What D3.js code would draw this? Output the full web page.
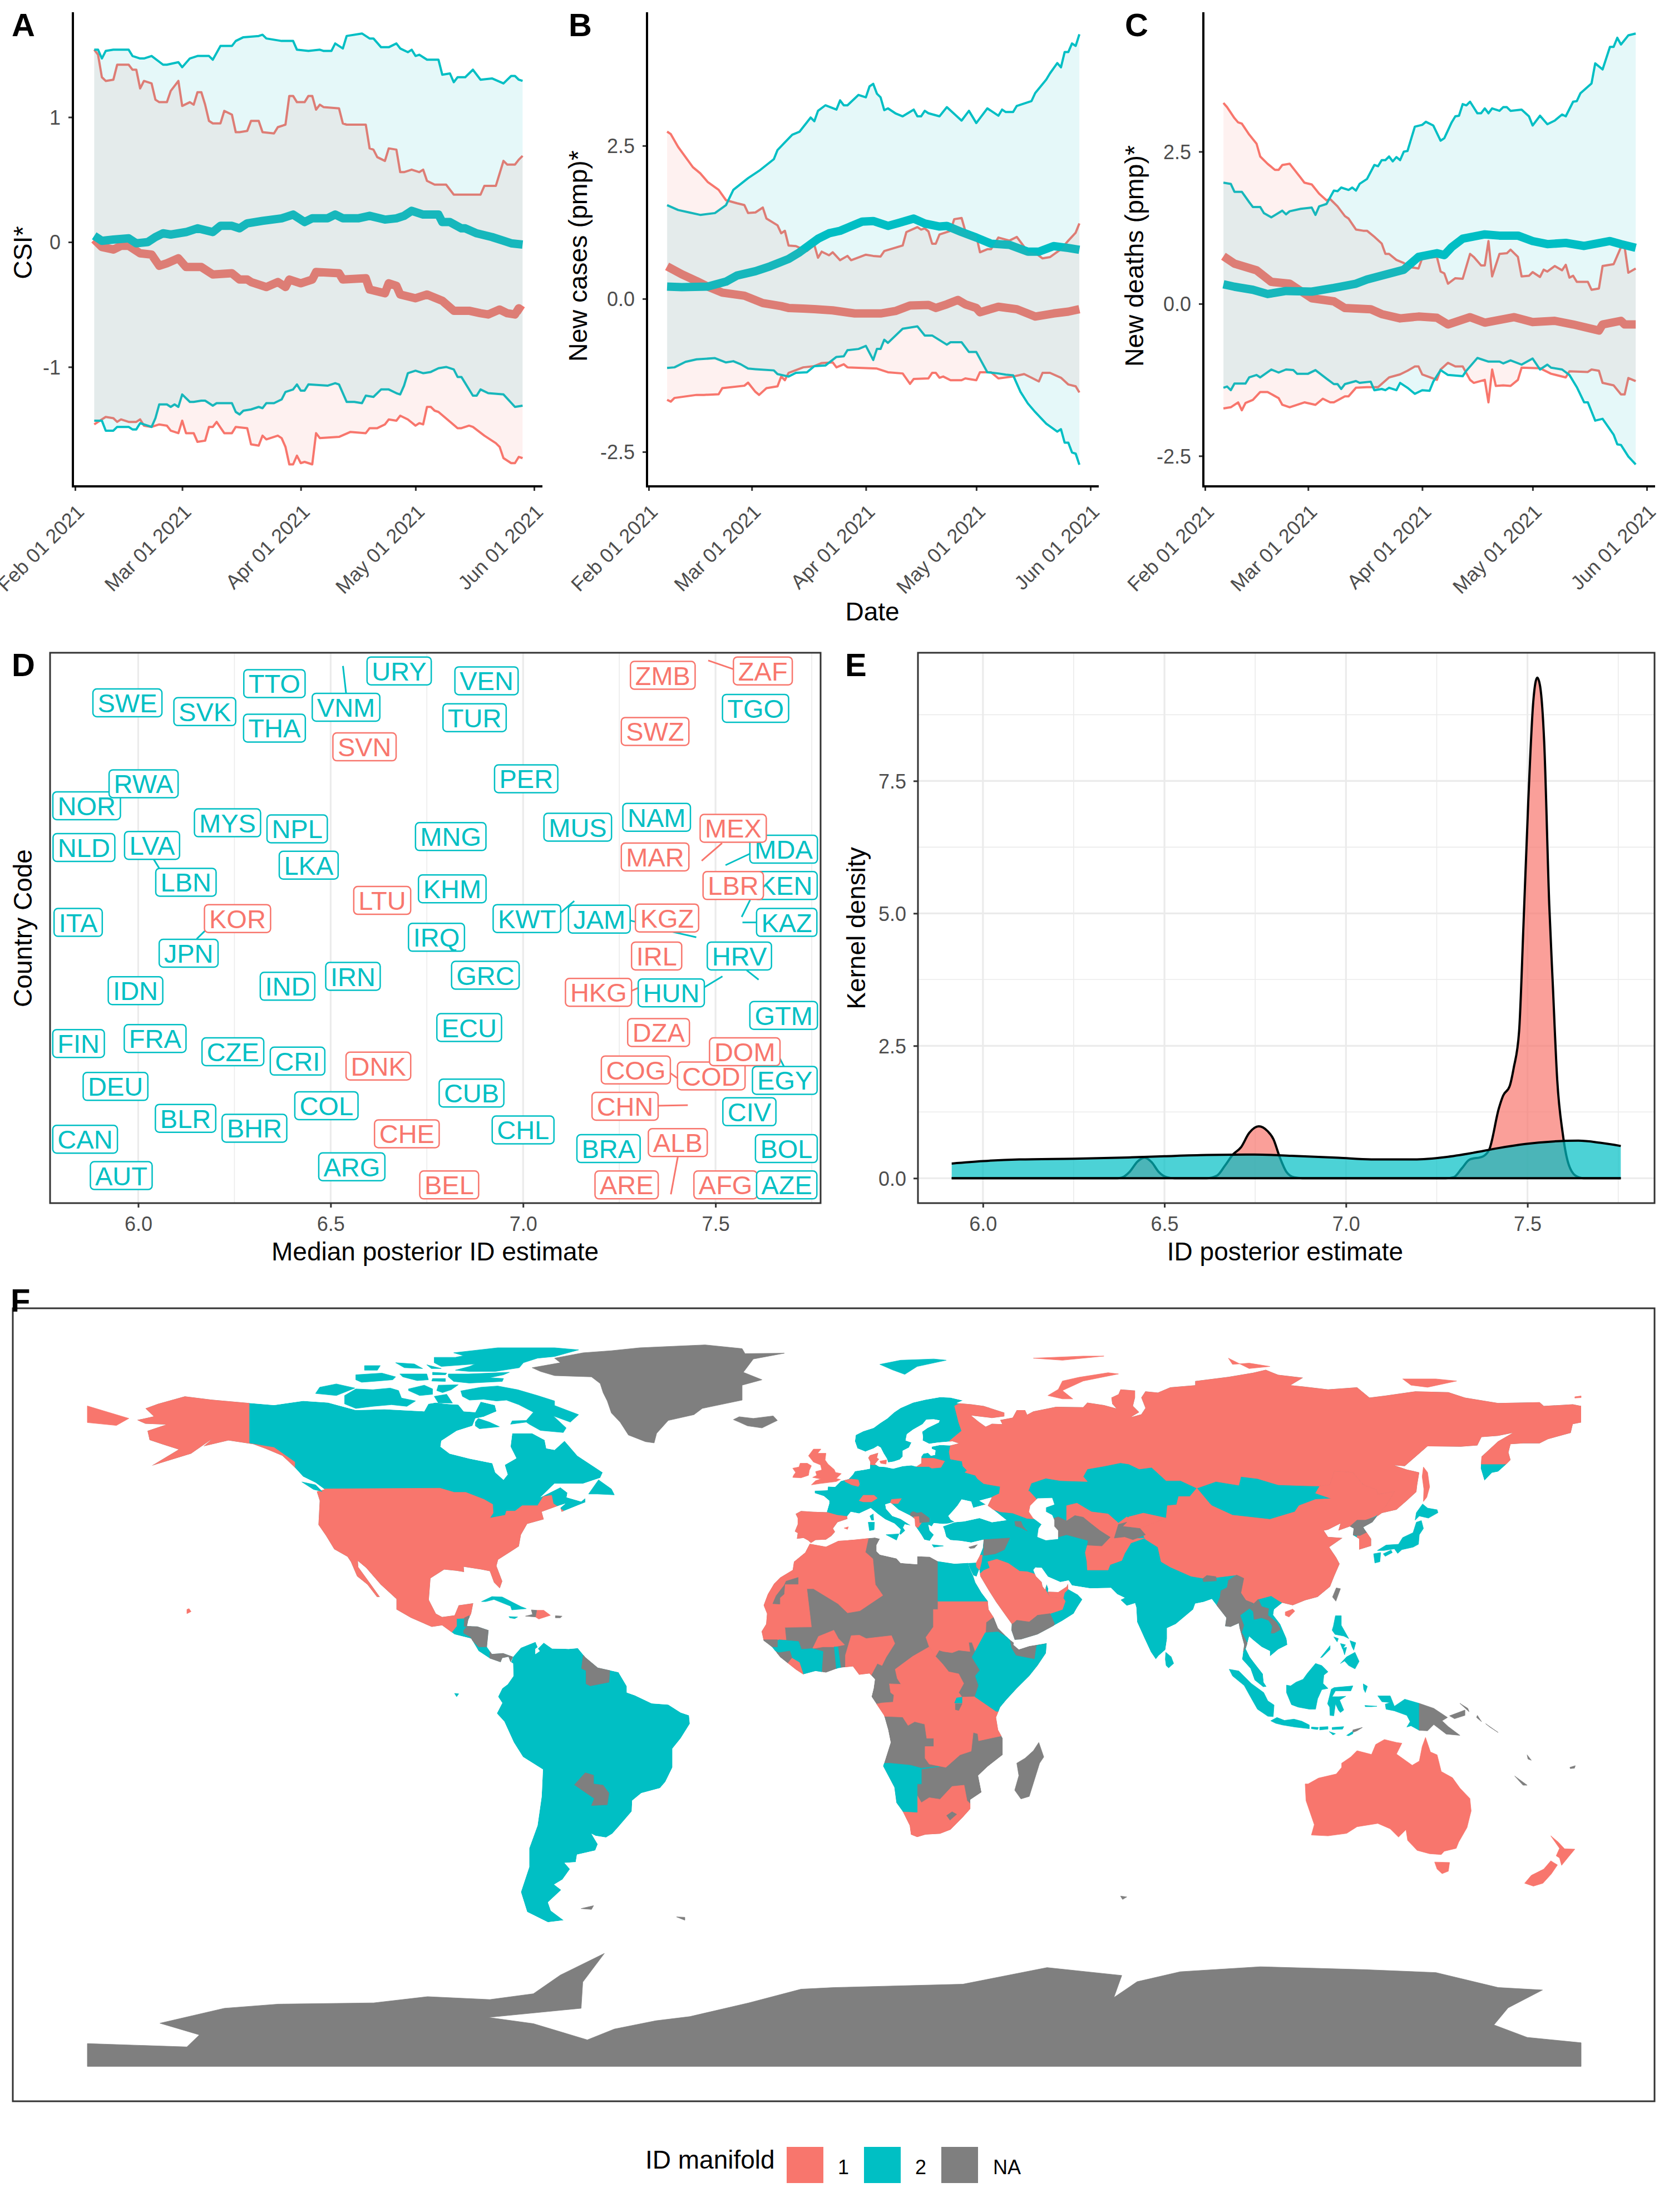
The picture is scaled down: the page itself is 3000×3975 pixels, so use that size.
<!DOCTYPE html>
<html>
<head>
<meta charset="utf-8">
<style>
  body { margin: 0; background: white; }
  text { font-family: "Liberation Sans", Arial, sans-serif; }
</style>
</head>
<body>
<svg id="chart" width="3000" height="3975"></svg>
<script src="https://cdn.jsdelivr.net/npm/d3@7"></script>
<script>
// ---- panel A: CSI, [day since 1 Feb 2021, value]
const csiHi2 = [[5,1.54],[6,1.54],[7,1.47],[8,1.53],[10,1.54],[14,1.54],[15,1.49],[17,1.47],[18,1.47],[20,1.49],[23,1.42],[24,1.42],[27,1.44],[28,1.40],[30,1.47],[32,1.49],[35,1.49],[36,1.46],[38,1.57],[41,1.57],[42,1.61],[44,1.64],[48,1.65],[49,1.66],[50,1.63],[54,1.61],[57,1.61],[58,1.54],[61,1.53],[64,1.54],[65,1.53],[67,1.53],[68,1.59],[70,1.55],[71,1.65],[75,1.67],[77,1.63],[78,1.63],[80,1.56],[82,1.56],[84,1.59],[85,1.55],[87,1.52],[88,1.54],[89,1.49],[90,1.50],[92,1.46],[95,1.46],[96,1.34],[98,1.35],[99,1.28],[100,1.32],[102,1.32],[104,1.38],[106,1.30],[109,1.31],[112,1.27],[114,1.33],[115,1.33],[116,1.30],[117,1.29]]
const csiHi1 = [[5,1.54],[6,1.50],[7,1.32],[8,1.29],[10,1.30],[11,1.42],[14,1.42],[15,1.38],[16,1.38],[17,1.23],[18,1.29],[20,1.27],[21,1.14],[22,1.12],[24,1.12],[25,1.21],[27,1.29],[28,1.09],[30,1.12],[31,1.10],[32,1.20],[33,1.20],[34,1.10],[35,0.97],[36,0.95],[38,0.95],[39,1.05],[41,1.02],[42,0.88],[43,0.88],[45,0.89],[46,0.97],[48,0.97],[49,0.88],[52,0.87],[53,0.92],[55,0.94],[56,1.17],[57,1.17],[58,1.12],[60,1.12],[61,1.17],[62,1.17],[63,1.06],[64,1.10],[65,1.08],[69,1.07],[70,0.95],[71,0.94],[76,0.94],[77,0.75],[78,0.74],[79,0.68],[81,0.65],[82,0.75],[84,0.74],[85,0.56],[86,0.56],[88,0.58],[90,0.56],[91,0.58],[92,0.49],[94,0.46],[97,0.46],[99,0.38],[106,0.38],[107,0.45],[108,0.45],[110,0.45],[112,0.65],[113,0.62],[115,0.62],[116,0.66],[117,0.69]]
const csiLo2 = [[5,-1.43],[7,-1.43],[8,-1.51],[10,-1.51],[11,-1.48],[14,-1.48],[15,-1.50],[16,-1.50],[17,-1.45],[20,-1.48],[21,-1.41],[22,-1.30],[24,-1.30],[25,-1.32],[26,-1.30],[27,-1.32],[28,-1.22],[30,-1.28],[31,-1.28],[33,-1.27],[34,-1.27],[36,-1.31],[37,-1.29],[41,-1.29],[42,-1.36],[43,-1.38],[44,-1.35],[46,-1.34],[48,-1.32],[49,-1.33],[50,-1.29],[52,-1.29],[54,-1.26],[55,-1.20],[57,-1.18],[58,-1.14],[59,-1.19],[60,-1.19],[61,-1.14],[66,-1.15],[68,-1.13],[69,-1.14],[71,-1.28],[73,-1.28],[75,-1.29],[76,-1.23],[78,-1.24],[80,-1.18],[82,-1.18],[84,-1.21],[85,-1.22],[86,-1.15],[87,-1.05],[89,-1.03],[91,-1.05],[93,-1.04],[95,-1.01],[97,-1.00],[99,-1.02],[100,-1.08],[101,-1.08],[104,-1.23],[105,-1.23],[106,-1.18],[108,-1.21],[112,-1.22],[115,-1.32],[117,-1.31]]
const csiLo1 = [[5,-1.46],[7,-1.42],[8,-1.40],[10,-1.41],[11,-1.44],[12,-1.42],[14,-1.44],[16,-1.44],[17,-1.42],[18,-1.47],[20,-1.48],[22,-1.46],[24,-1.47],[25,-1.51],[27,-1.53],[28,-1.43],[29,-1.53],[31,-1.53],[32,-1.60],[34,-1.59],[35,-1.48],[36,-1.48],[37,-1.44],[39,-1.53],[41,-1.53],[42,-1.48],[45,-1.49],[46,-1.62],[48,-1.63],[49,-1.55],[50,-1.58],[53,-1.55],[54,-1.57],[55,-1.64],[56,-1.78],[57,-1.78],[58,-1.71],[59,-1.77],[60,-1.76],[62,-1.78],[63,-1.53],[64,-1.57],[69,-1.56],[72,-1.52],[76,-1.53],[77,-1.49],[79,-1.49],[81,-1.46],[82,-1.42],[84,-1.43],[85,-1.39],[87,-1.42],[89,-1.47],[90,-1.45],[91,-1.46],[92,-1.32],[93,-1.32],[94,-1.35],[95,-1.36],[100,-1.49],[101,-1.49],[103,-1.47],[104,-1.48],[107,-1.55],[110,-1.61],[111,-1.64],[112,-1.73],[114,-1.77],[115,-1.77],[116,-1.72],[117,-1.73]]
const csiMed2 = [[5,0.05],[7,0.01],[10,0.02],[14,0.03],[16,-0.01],[19,0.00],[21,0.04],[23,0.07],[25,0.06],[29,0.08],[32,0.11],[36,0.08],[38,0.13],[41,0.13],[43,0.11],[45,0.15],[49,0.17],[54,0.19],[57,0.22],[60,0.16],[62,0.19],[64,0.19],[66,0.19],[68,0.22],[70,0.19],[74,0.19],[77,0.21],[81,0.18],[84,0.19],[86,0.21],[88,0.25],[91,0.22],[95,0.22],[96,0.16],[98,0.16],[101,0.11],[102,0.11],[105,0.07],[109,0.04],[112,0.01],[114,-0.01],[117,-0.02]]
const csiMed1 = [[5,0.02],[7,-0.04],[10,-0.06],[12,-0.03],[14,-0.03],[17,-0.09],[20,-0.10],[22,-0.19],[24,-0.17],[27,-0.13],[29,-0.20],[33,-0.20],[36,-0.26],[41,-0.25],[43,-0.30],[45,-0.30],[46,-0.32],[50,-0.36],[53,-0.32],[55,-0.36],[56,-0.30],[59,-0.33],[62,-0.30],[63,-0.24],[69,-0.25],[70,-0.30],[76,-0.29],[77,-0.38],[81,-0.41],[82,-0.33],[84,-0.35],[85,-0.42],[89,-0.45],[92,-0.42],[96,-0.47],[99,-0.55],[103,-0.55],[106,-0.57],[108,-0.58],[111,-0.54],[113,-0.57],[115,-0.58],[116,-0.53],[117,-0.55]]

// ---- panel B: new cases
const casesHi2 = [[5,1.53],[8,1.45],[11,1.41],[14,1.37],[18,1.40],[21,1.53],[23,1.78],[27,1.97],[30,2.09],[34,2.28],[35,2.43],[39,2.68],[41,2.73],[44,2.96],[45,2.90],[46,3.07],[48,3.16],[51,3.09],[52,3.24],[53,3.16],[54,3.16],[57,3.33],[59,3.29],[60,3.47],[61,3.51],[62,3.35],[63,3.29],[64,3.08],[65,3.11],[67,3.03],[69,2.98],[72,3.09],[73,2.98],[74,2.98],[75,3.07],[76,3.03],[79,2.98],[81,3.13],[85,2.91],[87,3.07],[89,2.87],[92,3.11],[95,2.99],[96,3.09],[97,3.05],[99,3.05],[100,3.15],[104,3.23],[105,3.36],[108,3.58],[109,3.68],[111,3.85],[112,3.78],[113,4.03],[114,4.03],[115,4.17],[116,4.13],[117,4.32]]
const casesHi1 = [[5,2.73],[6,2.69],[8,2.48],[12,2.15],[14,2.05],[16,1.91],[19,1.78],[21,1.61],[24,1.56],[26,1.53],[27,1.40],[29,1.41],[31,1.49],[32,1.31],[35,1.20],[36,1.07],[37,1.11],[38,0.87],[40,0.86],[43,0.78],[45,0.88],[46,0.67],[47,0.77],[49,0.71],[50,0.76],[52,0.63],[54,0.70],[55,0.63],[59,0.72],[61,0.70],[63,0.69],[64,0.78],[69,0.87],[70,1.09],[73,1.17],[74,1.13],[75,1.15],[76,1.10],[77,0.90],[78,0.90],[79,1.05],[82,1.11],[83,1.30],[85,1.32],[86,1.11],[89,1.03],[90,0.76],[92,0.81],[93,0.81],[95,1.00],[98,0.95],[100,1.01],[103,0.77],[105,0.75],[107,0.66],[109,0.68],[112,0.81],[114,0.95],[116,1.08],[117,1.23]]
const casesLo2 = [[5,-1.13],[7,-1.12],[10,-1.03],[13,-0.99],[18,-0.97],[21,-1.04],[23,-1.02],[25,-1.07],[27,-1.14],[29,-1.15],[34,-1.17],[35,-1.23],[38,-1.27],[40,-1.21],[43,-1.20],[45,-1.10],[48,-1.09],[51,-0.95],[53,-0.94],[54,-0.84],[57,-0.82],[59,-0.77],[61,-1.00],[62,-0.82],[63,-0.82],[64,-0.67],[65,-0.72],[69,-0.49],[73,-0.45],[75,-0.60],[77,-0.60],[81,-0.75],[82,-0.71],[85,-0.71],[87,-0.87],[89,-0.87],[92,-1.20],[95,-1.22],[97,-1.24],[99,-1.25],[101,-1.52],[103,-1.71],[105,-1.85],[108,-2.04],[111,-2.17],[112,-2.13],[113,-2.35],[114,-2.35],[115,-2.51],[116,-2.53],[117,-2.71]]
const casesLo1 = [[5,-1.65],[6,-1.68],[7,-1.62],[13,-1.57],[15,-1.57],[19,-1.56],[20,-1.46],[26,-1.42],[27,-1.37],[29,-1.52],[30,-1.57],[32,-1.46],[35,-1.43],[36,-1.27],[37,-1.33],[38,-1.21],[42,-1.12],[45,-1.10],[47,-1.05],[50,-1.04],[51,-1.12],[53,-1.07],[54,-1.12],[62,-1.14],[65,-1.20],[69,-1.22],[71,-1.39],[72,-1.31],[76,-1.30],[77,-1.21],[78,-1.21],[79,-1.29],[80,-1.27],[82,-1.33],[85,-1.33],[86,-1.30],[89,-1.33],[90,-1.20],[93,-1.20],[95,-1.30],[99,-1.27],[102,-1.23],[104,-1.29],[106,-1.35],[107,-1.21],[109,-1.21],[112,-1.29],[114,-1.40],[116,-1.43],[117,-1.53]]
const casesMed2 = [[5,0.20],[9,0.19],[16,0.20],[21,0.28],[24,0.38],[29,0.45],[33,0.53],[38,0.65],[41,0.76],[46,0.98],[49,1.07],[52,1.11],[58,1.26],[61,1.27],[65,1.19],[68,1.24],[72,1.31],[75,1.23],[79,1.18],[81,1.19],[85,1.09],[89,1.00],[93,0.90],[98,0.88],[103,0.77],[106,0.77],[110,0.86],[114,0.83],[117,0.80]]
const casesMed1 = [[5,0.53],[9,0.40],[13,0.29],[16,0.20],[20,0.10],[26,0.05],[31,-0.07],[36,-0.12],[38,-0.15],[42,-0.16],[45,-0.17],[50,-0.19],[56,-0.24],[63,-0.24],[67,-0.20],[71,-0.11],[76,-0.10],[78,-0.15],[81,-0.09],[84,-0.02],[86,-0.09],[89,-0.15],[90,-0.22],[95,-0.13],[100,-0.17],[105,-0.29],[110,-0.24],[114,-0.21],[117,-0.17]]

// ---- panel C: new deaths
const deathsHi2 = [[5,1.99],[7,1.97],[8,1.84],[10,1.84],[12,1.67],[13,1.59],[15,1.59],[16,1.49],[18,1.42],[21,1.53],[22,1.47],[23,1.52],[26,1.56],[29,1.58],[30,1.46],[31,1.60],[33,1.64],[35,1.86],[36,1.85],[37,1.91],[39,1.87],[40,1.91],[41,1.86],[42,1.97],[44,2.05],[46,2.28],[47,2.26],[48,2.36],[49,2.36],[50,2.42],[51,2.34],[52,2.41],[53,2.36],[54,2.50],[55,2.51],[57,2.91],[59,2.94],[60,2.99],[62,2.93],[64,2.68],[65,2.72],[67,2.98],[68,3.08],[69,3.09],[70,3.28],[71,3.26],[72,3.32],[74,3.13],[75,3.13],[76,3.21],[77,3.13],[78,3.21],[80,3.17],[81,3.23],[82,3.23],[83,3.17],[86,3.19],[88,3.08],[89,2.93],[91,3.09],[93,2.95],[95,3.01],[97,3.11],[98,3.08],[100,3.32],[101,3.33],[102,3.46],[105,3.62],[106,3.95],[108,3.85],[110,4.22],[111,4.22],[112,4.37],[113,4.26],[115,4.41],[117,4.44]]
const deathsHi1 = [[5,3.30],[6,3.23],[8,3.05],[9,2.98],[10,2.96],[12,2.78],[14,2.63],[15,2.42],[17,2.30],[19,2.20],[20,2.20],[21,2.28],[23,2.30],[26,2.07],[27,1.99],[29,1.96],[31,1.81],[33,1.70],[34,1.72],[36,1.60],[38,1.44],[39,1.40],[41,1.22],[43,1.20],[44,1.20],[46,1.10],[48,0.99],[49,0.82],[50,0.82],[52,0.72],[54,0.67],[56,0.60],[58,0.58],[59,0.75],[63,0.77],[64,0.53],[65,0.50],[66,0.33],[68,0.42],[70,0.41],[72,0.82],[73,0.77],[75,0.63],[76,0.63],[77,1.03],[78,0.45],[80,0.82],[82,0.83],[83,0.89],[85,0.77],[86,0.45],[88,0.46],[89,0.52],[91,0.44],[92,0.56],[93,0.53],[95,0.62],[97,0.55],[98,0.64],[99,0.43],[100,0.46],[101,0.36],[104,0.36],[105,0.23],[107,0.25],[108,0.62],[111,0.65],[113,0.93],[114,0.93],[115,0.51],[117,0.58]]
const deathsLo2 = [[5,-1.38],[6,-1.36],[7,-1.42],[8,-1.31],[11,-1.31],[12,-1.21],[14,-1.17],[15,-1.21],[18,-1.08],[20,-1.13],[22,-1.08],[24,-1.09],[25,-1.15],[28,-1.15],[30,-1.09],[33,-1.23],[35,-1.32],[36,-1.32],[37,-1.40],[38,-1.32],[41,-1.27],[42,-1.30],[45,-1.28],[46,-1.42],[48,-1.40],[49,-1.42],[50,-1.38],[52,-1.42],[53,-1.30],[55,-1.38],[57,-1.48],[59,-1.42],[61,-1.43],[62,-1.28],[64,-1.09],[66,-1.17],[70,-1.19],[71,-1.10],[74,-0.89],[77,-0.95],[80,-0.95],[81,-0.98],[83,-0.93],[86,-1.00],[89,-0.90],[91,-1.08],[93,-1.00],[94,-1.05],[97,-1.08],[99,-1.17],[101,-1.37],[103,-1.62],[104,-1.62],[106,-1.92],[108,-1.89],[111,-2.15],[112,-2.31],[113,-2.32],[115,-2.51],[117,-2.64]]
const deathsLo1 = [[5,-1.72],[7,-1.70],[9,-1.62],[10,-1.75],[11,-1.63],[13,-1.58],[15,-1.45],[17,-1.45],[20,-1.55],[21,-1.66],[23,-1.70],[27,-1.62],[30,-1.66],[32,-1.56],[34,-1.62],[35,-1.62],[38,-1.52],[39,-1.52],[41,-1.38],[44,-1.37],[47,-1.37],[50,-1.21],[53,-1.16],[55,-1.10],[57,-1.03],[58,-1.03],[59,-1.16],[63,-1.25],[64,-1.08],[66,-0.97],[68,-1.03],[70,-1.03],[72,-1.25],[73,-1.30],[76,-1.25],[77,-1.62],[78,-1.08],[79,-1.35],[81,-1.34],[83,-1.35],[85,-1.25],[86,-1.05],[91,-1.06],[94,-1.15],[98,-1.21],[99,-1.11],[104,-1.12],[105,-1.08],[107,-1.10],[108,-1.30],[111,-1.34],[113,-1.49],[114,-1.49],[115,-1.22],[117,-1.27]]
const deathsMed2 = [[5,0.32],[8,0.28],[13,0.23],[17,0.16],[22,0.21],[29,0.20],[35,0.26],[41,0.33],[44,0.40],[49,0.48],[54,0.56],[58,0.77],[63,0.83],[65,0.80],[67,0.93],[70,1.07],[76,1.14],[80,1.12],[85,1.12],[89,1.03],[93,0.98],[98,1.00],[103,0.95],[110,1.03],[113,0.98],[117,0.92]]
const deathsMed1 = [[5,0.78],[8,0.66],[14,0.55],[18,0.36],[23,0.33],[29,0.09],[35,0.04],[38,-0.07],[45,-0.09],[48,-0.17],[53,-0.24],[58,-0.21],[63,-0.23],[66,-0.34],[72,-0.22],[76,-0.31],[84,-0.22],[89,-0.30],[95,-0.28],[100,-0.34],[107,-0.44],[108,-0.34],[113,-0.28],[114,-0.34],[117,-0.34]]

// ---- panel D: repelled country labels
const countryCodes = ["AFG","ALB","ARE","ARG","AUT","AZE","BEL","BHR","BLR","BOL","BRA","CAN","CHE","CHL","CHN","CIV","COD","COG","COL","CRI","CUB","CZE","DEU","DNK","DOM","DZA","ECU","EGY","FIN","FRA","GRC","GTM","HKG","HRV","HUN","IDN","IND","IRL","IRN","IRQ","ITA","JAM","JPN","KAZ","KEN","KGZ","KHM","KOR","KWT","LBN","LBR","LKA","LTU","LVA","MAR","MDA","MEX","MNG","MUS","MYS","NAM","NLD","NOR","NPL","PER","RWA","SVK","SVN","SWE","SWZ","TGO","THA","TTO","TUR","URY","VEN","VNM","ZAF","ZMB"]
const manifoldOne = ["AFG","ALB","ARE","BEL","CHE","CHN","COD","COG","DNK","DOM","DZA","HKG","IRL","KGZ","KOR","LBR","LTU","MAR","MEX","SVN","SWZ","ZAF","ZMB"]
const labelEstimate = [7.526,7.402,7.269,6.555,5.956,7.685,6.808,6.302,6.123,7.684,7.222,5.862,6.698,7.000,7.265,7.588,7.489,7.293,6.489,6.414,6.866,6.246,5.941,6.624,7.576,7.352,6.860,7.680,5.845,6.044,6.902,7.677,7.196,7.562,7.385,5.993,6.388,7.347,6.558,6.775,5.844,7.198,6.131,7.685,7.682,7.374,6.816,6.258,7.010,6.124,7.546,6.443,6.634,6.036,7.343,7.677,7.546,6.812,7.142,6.232,7.347,5.859,5.866,6.413,7.008,6.014,6.173,6.588,5.972,7.343,7.604,6.354,6.354,6.874,6.678,6.905,6.540,7.623,7.363]
const labelRank = [3.3,11.0,3.3,6.6,5.0,3.3,3.3,13.6,15.4,9.9,9.9,11.6,12.6,13.3,17.6,16.6,23.1,24.2,17.7,25.8,20.0,27.5,21.2,24.9,27.5,31.0,31.9,22.3,29.0,29.9,41.4,34.1,38.3,44.9,38.2,38.6,39.4,44.9,41.2,48.3,51.0,51.6,45.4,51.0,57.7,51.8,57.1,51.7,51.7,58.3,57.7,61.4,55.0,65.0,62.9,64.3,68.1,66.6,68.3,69.1,70.1,64.6,72.2,68.0,77.1,76.2,89.3,82.9,90.9,85.7,89.9,86.3,94.4,88.2,96.7,94.9,90.1,96.7,95.9]
// connector: code, estimate and rank at both ends
const labelLinks = [["VNM",6.532,97.6,6.540,92.7],["ZAF",7.481,98.6,7.547,97.0],["LVA",6.040,62.5,6.055,60.8],["JPN",6.152,48.0,6.174,49.5],["MDA",7.526,61.4,7.593,63.6],["MEX",7.464,62.2,7.517,65.4],["KEN",7.568,52.0,7.590,55.1],["KAZ",7.570,51.0,7.609,51.0],["KWT",7.098,52.8,7.133,54.9],["JAM",7.275,51.4,7.293,51.1],["JAM",7.388,49.3,7.450,48.3],["HUN",7.468,39.1,7.518,41.2],["HRV",7.581,42.3,7.612,40.6],["HKG",7.280,38.5,7.302,39.2],["EGY",7.664,26.7,7.678,24.8],["COG",7.381,23.7,7.403,22.6],["CHN",7.349,17.7,7.428,17.8],["ALB",7.402,8.4,7.384,1.6]]

// ---- panel E: kernel density, [ID estimate, density]
const density1 = [[5.914,0],[6.37,0],[6.382,0.01],[6.404,0.12],[6.426,0.315],[6.445,0.385],[6.465,0.30],[6.484,0.12],[6.506,0.02],[6.528,0],[6.616,0],[6.645,0.05],[6.667,0.24],[6.689,0.45],[6.711,0.585],[6.733,0.85],[6.76,0.98],[6.784,0.89],[6.80,0.74],[6.818,0.39],[6.836,0.12],[6.858,0.015],[6.88,0],[7.275,0],[7.297,0.02],[7.319,0.185],[7.34,0.35],[7.377,0.41],[7.395,0.546],[7.421,1.315],[7.433,1.56],[7.451,1.74],[7.462,2.08],[7.477,2.78],[7.489,4.78],[7.502,7.08],[7.516,9.0],[7.527,9.45],[7.535,9.28],[7.546,8.24],[7.56,5.16],[7.57,3.62],[7.582,1.85],[7.597,0.85],[7.611,0.315],[7.633,0.046],[7.655,0],[7.757,0]]
const density2 = [[5.914,0.277],[6.0,0.323],[6.10,0.354],[6.25,0.369],[6.4,0.392],[6.5,0.415],[6.616,0.438],[6.748,0.446],[6.85,0.423],[6.98,0.385],[7.07,0.354],[7.187,0.354],[7.275,0.40],[7.348,0.477],[7.42,0.569],[7.494,0.646],[7.567,0.692],[7.64,0.708],[7.70,0.669],[7.757,0.608]]

// ---- panel F: coastlines and country areas, [lon, lat]
const eurasiaCoast = [[-5.6,36],[-6.3,36.6],[-7.4,37.2],[-9,37],[-8.8,38.4],[-9.5,38.8],[-8.8,40.5],[-8.8,42],[-9.3,43],[-8,43.7],[-5,43.5],[-1.8,43.4],[-1.2,45.5],[-1.2,46.2],[-2.5,47.3],[-4.7,48],[-4.7,48.6],[-1.6,48.7],[-1.5,49.6],[0.2,49.5],[1.6,50.9],[3.5,51.4],[4.5,52.5],[5,53.3],[7,53.6],[8.6,53.9],[8.7,55.5],[8.2,56.5],[8.6,57.1],[10.6,57.7],[10.3,56.5],[10.8,56.2],[9.8,55],[10.8,54.4],[12.3,54.3],[14.2,53.9],[16.5,54.5],[18.6,54.7],[19.8,54.4],[21,55.2],[21,56.8],[21.5,57.5],[22.6,57.7],[23.3,57],[24.3,57.2],[24.4,58.3],[23.5,58.7],[23.5,59.2],[25.5,59.6],[28,59.5],[30,60],[28.5,60.5],[25,60.2],[22.9,59.9],[21.3,60.7],[21.4,61.5],[21.2,62.8],[22.5,63.7],[25.2,65],[25.4,65.5],[24,65.8],[22.2,65.7],[21.3,64.6],[19,63.3],[17.5,62.2],[17.2,60.7],[18.6,60.2],[18,59],[16.5,58.2],[16.5,56.8],[15.8,56.1],[14.3,55.6],[13,55.4],[12.7,56.3],[11.9,57.6],[11.2,59],[10.5,59.4],[9.5,58.8],[7.5,58],[5.6,58.8],[5,60.5],[5.2,62],[7,62.9],[9.5,63.7],[11,64.8],[12.8,66],[14.5,67.5],[16,68.5],[19,69.8],[22,70.5],[25.5,71.1],[28,71],[31,70.3],[29.5,69.7],[33,69.4],[36,69],[41,67.4],[41,66.5],[38,66.1],[33,66.7],[34.8,65.2],[36.5,64],[38,64.7],[40.5,64.6],[40,65.6],[43,66.2],[44,68],[46,68],[46.5,66.9],[48,67.7],[53.5,68.8],[60,68.7],[61,69.8],[65,69.2],[68,68.4],[67,69.5],[66.8,71],[68.5,71.8],[69,73],[72.5,72.7],[72.5,71],[72,69],[73.5,67.5],[71.5,66.3],[74,67],[75,68.5],[74,71],[75,72.5],[78,72.2],[81,73.5],[87,74],[87,75],[95,76],[101,77],[104,77.7],[107,76.5],[113,75.8],[110,74],[113,73.7],[119,73],[126,73.5],[129,71],[133,71.5],[140,72.5],[148,72.3],[152,71],[160,69.7],[170,69.9],[171,69],[178,69.4],[180,69],[180,65],[178,64.6],[177.5,62.5],[172,61],[170,60],[166,60],[163,59.8],[162.5,57.8],[163,56],[161.8,54.8],[160,53.2],[158.5,52.9],[156.7,51],[155.8,54],[156,56.8],[160,60.5],[163.5,62.5],[160,61.8],[156,61.5],[155,59.5],[151,59.2],[143,59.3],[137.5,54.5],[135,54.7],[138,53.7],[141,53],[140.5,50],[140.3,48.3],[138,46.2],[135.5,44],[132,43.2],[130.7,42.3],[129.7,41],[127.5,39.8],[129.4,37],[129.4,35.3],[126.5,34.4],[126.5,37],[125,37.9],[125.2,39.5],[124.3,40],[121.5,39],[122,40.7],[119,39.2],[118,39],[119,37.5],[122.5,37.2],[119.3,35],[121,32.5],[121.8,31],[120.5,28],[119.5,25.5],[116.5,23],[113.5,22.2],[110.5,21],[108,21.6],[106,20],[105.8,18.7],[107.5,16.5],[109,13],[109.2,11.5],[107,10.4],[105,8.7],[105,10],[103,11],[100.9,12.7],[100,13.5],[99.2,10.5],[100.2,8.5],[101.5,6.8],[103.3,4.5],[103.5,2.5],[104.2,1.4],[103.4,1.3],[101.3,3],[100.3,5.8],[98.3,8],[98.8,11.5],[97.7,15.5],[97.5,16.7],[95.5,15.8],[94.2,16],[94.5,18],[92.3,20.8],[91,22.5],[89,21.8],[87,21.4],[86.5,20],[82.3,16.5],[80.2,15.5],[80.2,13],[79.8,10.3],[78.2,8.9],[77.5,8],[76.3,9.8],[74.8,13],[73,17],[72.8,20.5],[72.5,21.5],[70.5,20.9],[69,22.3],[70,22.8],[68.2,23.7],[66.7,25.2],[61.7,25.1],[57.3,25.8],[56.5,27],[54.5,26.6],[51.5,27.9],[50,30],[48.5,30.1],[48,29.5],[48.6,28],[50,26.6],[50.2,25.6],[50.8,24.8],[51.2,26.1],[51.6,25],[51.5,24.3],[54,24.2],[56,25.5],[56.3,26.2],[56.4,24.9],[58.7,23.6],[59.8,22.4],[58.5,20.4],[57.7,19],[55,17.3],[52.2,15.7],[49,14],[45,12.8],[43.5,12.7],[42.7,15],[42.8,16.5],[41,19],[39,21.8],[37.3,24.5],[35.2,28],[35,29.5],[34.9,29.5],[34.3,27.9],[33.5,28.2],[32.6,30],[32.3,31.2],[34.2,31.3],[35,32.8],[35.8,34.8],[36,36.8],[33,36.1],[30.5,36.5],[28,36.7],[27,37.5],[26.5,39.3],[26.2,40],[29,41],[31.3,41.2],[35,42],[38,41],[41.5,41.5],[39,43.5],[37,45],[38,47],[35,46.2],[36.5,45.3],[33.5,44.5],[33,46],[30.7,46.5],[29.7,45],[28.6,43.7],[27.5,42.5],[28.1,41.6],[29,41.1],[27.5,40.7],[26.2,40.6],[24,40.8],[23.5,40],[22.7,40.4],[23,39],[24,38],[23,36.5],[21.7,36.8],[21,38],[19.5,40.2],[19.4,41.8],[18.5,42.5],[15.5,44],[13.6,45.7],[12.3,45.3],[12.5,44.2],[14,42.5],[16,41.8],[18.5,40.2],[17,40.5],[16.6,39.7],[17.1,39],[16,38],[15.7,38.2],[16,39.3],[14.5,40.7],[12.3,41.7],[10.5,43],[8.8,44.4],[7.5,43.8],[6,43.1],[4,43.5],[3.1,42.4],[3.2,41.8],[0.8,41],[-0.3,39.5],[0.2,38.7],[-0.7,37.7],[-2,36.8],[-4.5,36.7]]
const eurasiaRed = [
  [[31,70],[29,69],[29.5,67],[30,65],[30.7,63],[27.8,60.6],[28,59.4],[27.7,57.9],[28,56.2],[30.8,55.7],[31,54.5],[32,53.5],[31.5,53],[34,52.3],[34.5,51.5],[36,50.3],[38.2,49.9],[40,49.6],[39.8,47.9],[38.3,47.2],[37.5,46.7],[36,45],[37,44.5],[40,43.5],[43,43.2],[46.5,41.9],[48.5,41.8],[47.8,43],[47,44.5],[49,46.3],[47,48.5],[46.7,48.4],[47.5,50.4],[51,51.6],[54.5,51],[61,50.8],[60,52],[61,53.8],[65,54.5],[69,55.3],[71,55],[73.5,53.8],[76.5,54.2],[80,51],[83.5,51],[87.4,49.2],[92,50.8],[97.5,49.9],[98,52],[102,51.5],[107,50],[113,49.8],[117,49.7],[119.5,50],[120.5,53.3],[125,53],[127.5,50],[130.7,48.8],[131,47.7],[135,48.4],[133,45],[131,43],[130.7,42.3],[130,40],[140,40],[150,55],[180,55],[180,80],[30,80]], // Russia
  [[73.7,39.5],[76,40.5],[80,42],[80.3,45],[82.5,45.2],[83,47.2],[85.7,47.2],[87.4,49.2],[90.5,45.5],[91,45],[96,42.7],[105,41.7],[111,43.5],[112,45],[116,46.5],[119.8,46.7],[116,48],[117,49.7],[119.5,50],[120.5,53.3],[125,53],[127.5,50],[130.7,48.8],[131,47.7],[135,48.4],[133,45],[131,43],[130.5,42.5],[128,41.5],[124.3,40],[125,30],[120,20],[108,19],[108,21.6],[106.5,22.5],[105.3,23.3],[102,22.4],[101.2,21.4],[99.2,22.2],[98,24],[98.7,27.5],[97,28.3],[92,27.7],[89,27.5],[86,28],[81,30.2],[78.8,31.5],[78,35],[75,36.9]], // China
  [[-10,44],[-1.8,43.4],[0.7,42.7],[3.2,42.4],[5,40],[0,36],[-6,35.9],[-10,36]], // Iberia
  [[2.5,51.1],[4,51.4],[5.8,51.2],[6.1,50.1],[5.8,49.6],[4.2,50],[2.6,50.8]], // Belgium
  [[7.5,58],[11.5,58],[11.5,54.8],[9.5,54.8],[7.5,55]], // Denmark
  [[6,46.2],[7,47.5],[9.6,47.5],[10.4,46.8],[9,45.9],[7,45.9]], // Switzerland
  [[13.5,45.6],[13.8,46.5],[16.2,46.7],[15.4,45.5],[14,45.5]], // Slovenia
  [[19.3,42.6],[20.5,42.5],[21,40.8],[20.2,39.7],[19,40.2],[19,42]], // Albania
  [[19.7,54.4],[22.8,54.4],[23.5,54],[25.7,54.2],[26.6,55.7],[24,56.4],[21,56.4],[20,55.3]], // Lithuania and Kaliningrad
  [[56,45],[56,41.3],[58,42.6],[61,41.2],[64,39],[66.5,37.4],[68,37.3],[70.5,41],[73,40.8],[70.5,42.3],[68.5,40.8],[66,43],[62,43.5],[58.5,45.6]], // Uzbekistan
  [[69.5,40],[73.7,39.5],[80,42],[74.5,43.2],[71,42.3]], // Kyrgyzstan
  [[60.5,33.7],[61,35.5],[64.5,36],[66.5,37.4],[70,37.5],[71.5,37],[74.9,37.2],[71.5,36],[70,33.5],[69.3,31.8],[66.5,30.8],[66,29.5],[61,29.5],[60.9,31.5]], // Afghanistan
  [[34.5,28],[36,29.4],[37.5,30],[37,31.5],[39.2,32.1],[42,31.1],[44.7,29.2],[46.5,29.1],[48.4,28.5],[51,26],[51,24.6],[52,23],[55.2,22.7],[55.7,22],[55,20],[52,19],[49,18.6],[47,17],[44,17.4],[43.2,16.7],[42,16],[38,18],[34,24]], // Saudi Arabia
  [[51.5,24.2],[56.4,26.5],[56.4,24.9],[55.5,24],[55.2,22.7],[52,23]], // UAE
  [[34.2,31.3],[35,33.1],[35.7,33.1],[35.5,31.5],[35,29.5],[34.3,30.2]], // Israel
  [[126,37.8],[128.3,38.6],[129.8,37],[129.5,35],[126,34]] // South Korea
]
const eurasiaGrey = [
  [[18.4,43.2],[19,43.6],[20,43.2],[21,43.4],[22.9,42],[22.9,41.1],[20.6,40.9],[20.5,42.5],[19.3,42.4],[18.4,42.5]], // Montenegro, Kosovo, Macedonia
  [[52.5,41.8],[54,42.3],[56,41.3],[58,42.6],[60,42.2],[61.2,41.2],[64,39],[66.5,37.4],[64.5,35.3],[61,35.5],[61.2,36.6],[56,38],[53.8,37.4],[53,39.5]], // Turkmenistan
  [[67.5,37.2],[68.5,40.5],[70.5,41],[69.5,40],[73.7,39.5],[75,38],[72,36.8],[70,37.5]], // Tajikistan
  [[43.5,41.2],[45,41.2],[45.5,40],[46.5,38.9],[45,39.7],[43.7,40.1]], // Armenia
  [[36,36.8],[42.3,37.2],[41,34.4],[38.8,33.4],[36,33],[36,34.6]], // Syria
  [[42,16],[43.2,16.7],[44,17.4],[47,17],[49,18.6],[52,19],[53.1,16.6],[52,14],[45,12],[42,12]], // Yemen
  [[88.8,27.4],[89.8,28.2],[92,27.9],[92.1,26.9],[89,26.7]], // Bhutan
  [[92.2,21],[93,23],[93.2,24.5],[94.7,25.3],[95,27],[97,28.3],[98.7,27.5],[98,24],[99.2,22.2],[101,21.5],[100.1,20.3],[97.8,18.6],[98.7,16.2],[98.2,14.5],[99.6,11.8],[98.7,10],[98,9],[97,16],[94,15],[93,18]], // Myanmar
  [[100.1,20.3],[101.2,21.5],[102.2,22.4],[103,20.7],[104.7,20.2],[104.5,18.6],[106.5,17],[107.6,15.2],[106,14.3],[105.3,14.3],[105.6,16],[104.7,17.4],[103,18],[101.2,17.6],[101,19.5]], // Laos
  [[124.3,40],[126,41.5],[128,41.5],[130.7,42.3],[129.7,40.8],[127.6,39.5],[128.3,38.6],[126.7,37.8],[125,37.9],[125,39.5]] // North Korea
]
const caspianSea = [[49,46.7],[52.5,46.8],[53,45.3],[51,44.6],[51,43.5],[52.5,42.7],[53,41.5],[53,40],[53.9,39],[53.9,37],[51,36.7],[49,37.5],[49.3,39.5],[50,40.5],[48,42],[47,43.5],[47.3,45]]

const africaCoast = [[-5.9,35.8],[-2,35.1],[1,36.5],[5,36.8],[9.8,37.3],[11,37],[10.2,35.5],[10.2,34],[11,33.2],[15,32.3],[16,31.2],[20,30.9],[20,32.8],[23,32.7],[25,31.6],[29,31],[32.3,31.2],[32.6,30],[33.5,28],[34,26.5],[35.5,24],[37,22],[37.2,20],[38.5,18],[39.5,15.5],[42,13],[43.3,12],[43.2,11.5],[44.5,10.4],[47,11.2],[51.2,11.9],[51,9.5],[49,6.5],[47,4],[44,1],[41.5,-1.7],[40,-3.5],[39,-6],[39.5,-9],[40.6,-11],[40.6,-15],[37,-17.8],[34.7,-20],[35.5,-24],[32.8,-25.8],[32.8,-28],[31,-30],[28,-33],[25.5,-34],[22,-34.2],[20,-34.8],[18.5,-34.2],[18.2,-32],[16.5,-28.6],[15,-26.5],[14.5,-22.8],[11.8,-17.7],[13.6,-12],[13,-9],[12,-5.5],[9,-1],[9.5,1],[9.8,3.2],[8.5,4.6],[6,4.3],[4.5,6.3],[1,5.9],[-2,4.8],[-4.5,5.2],[-7.5,4.4],[-9.2,5.5],[-13,8.5],[-15,11],[-17,12.5],[-17.5,14.7],[-16.4,16.5],[-16.2,19],[-17,21],[-16,23.7],[-14.5,26.2],[-13,27.7],[-10,29.5],[-9.7,31.5],[-7,33.7]]
const africaRed = [
  [[-20,37],[8.3,37.5],[7.5,33.8],[9.3,32.2],[9.9,26],[11.7,23.4],[6.2,19.7],[3.2,19.2],[0.9,21.4],[-5,25],[-6.6,25],[-5.5,15.8],[-11.9,15.7],[-11.6,12.7],[-20,12.7]], // Morocco to Senegal
  [[-11.4,6.9],[-10.2,8.4],[-8.3,7.3],[-7.4,4.3],[-9,4]], // Liberia
  [[-5.2,10.6],[-3.8,13.5],[-0.1,15],[1,13],[2.5,11.5],[0,11],[-2.7,11]], // Burkina Faso
  [[2.7,4],[2.7,9],[4.1,13.7],[6.1,13.8],[7.7,13],[13.8,13.7],[14.6,11.8],[12.5,8.5],[11.5,6.5],[10.4,7],[8.8,4],[5.9,4]], // Nigeria
  [[25,22],[37,22],[38.5,18.3],[36.6,16.9],[36.4,12.4],[34,9.9],[33.2,12.1],[32.4,12.1],[32.7,9.9],[30,10.2],[28.4,9.6],[26.3,9.9],[25.3,10.2],[24.4,8.7],[22.9,11],[22.1,13.3],[23.9,15.8],[23.9,20],[25,20]], // Sudan
  [[22.9,11],[18.9,8.7],[14.7,5.6],[15.2,3.4],[16.1,2],[13.3,2.1],[13.6,0],[14.4,-0.6],[14.2,-2.3],[11.5,-2.5],[9,-3],[9,-5.6],[16.5,-5.9],[17.8,-7.9],[19.4,-7],[21.8,-7.6],[22.3,-11],[24,-11],[24,-13],[21.9,-13],[21.9,-15.8],[22.9,-17.2],[26.9,-18],[30.3,-15],[33,-14.1],[33.5,-9.6],[34.6,-9.9],[34.8,-11.6],[40.4,-10.4],[44,-10.4],[44,-4.5],[39,-4.5],[34,-1],[30.8,-1.1],[30,0],[31.2,2.2],[30,4.5],[27.6,5],[26,7],[24.4,8.7]], // Congo basin, Tanzania, Zambia
  [[16.1,-28.6],[20,-28.8],[20,-24.8],[21,-26.5],[22.9,-25.3],[25.5,-25.7],[28.4,-22.6],[31.3,-22.3],[32,-26],[32.8,-26.8],[36,-27.6],[36,-38],[10,-38],[10,-28.6]] // South Africa
]
const africaTeal = [
  [[25,22],[25,33],[36,33],[37,22]], // Egypt
  [[36.4,14.4],[39.5,14.6],[42.2,13],[42.7,10.7],[43.8,8.9],[48.3,8],[48.8,11.3],[52,12],[52,-4.5],[39,-4.5],[33.9,-1],[34.8,1.7],[34,4],[35.1,5.4],[33.2,8.5]], // Ethiopia, Kenya, Somalia
  [[-16,11],[-13.3,12.7],[-8.6,12.3],[-7.9,10.4],[-5.2,10.6],[-2.7,9.9],[-3.1,4],[-7.2,4],[-8.3,7.3],[-10.2,8.4],[-10.7,10],[-13,9.5]], // Guinea, Ivory Coast
  [[0,11],[0.9,11],[1.7,5],[0.6,5]], // Togo
  [[29,-2.5],[29.5,-1.3],[30.8,-1.1],[30.8,-2.5]], // Rwanda
  [[5,-17.2],[13.3,-17],[18.4,-17.5],[21,-18.2],[25.3,-17.8],[21,-18.4],[21,-22],[20,-22],[20,-28.8],[16.1,-28.6],[5,-28.6]] // Namibia
]
const africaGrey = [
  [[-8.7,27.7],[-8.7,26.1],[-11.9,26.1],[-12.1,23.7],[-13.1,22.8],[-13.1,21.3],[-14.8,21.4],[-14,23.3],[-12,25.9],[-11.6,26.8]], // Western Sahara
  [[-17.5,12.7],[-13.7,12.7],[-13.7,11],[-17.5,11]], // Guinea-Bissau
  [[-14,9.5],[-10.7,10],[-10.2,8.4],[-11.4,6.9],[-14,7.5]], // Sierra Leone
  [[29.2,-2.7],[30.8,-2.7],[30,-4.3],[29.2,-4.1]], // Burundi
  [[27.1,-29.6],[28.4,-28.7],[29.5,-29.3],[27.9,-30.7]] // Lesotho
]

const northAmericaCoast = [[-168,65.6],[-164,66.5],[-166,68.4],[-163,69.5],[-156.5,71.3],[-150,70.5],[-141,69.7],[-135,69.2],[-128,70.2],[-122,69.8],[-115.3,68],[-108.4,68.2],[-98.8,67.7],[-97.8,69.5],[-96,69.8],[-93.9,69.5],[-90.6,69.3],[-89.3,67.7],[-86.5,67.5],[-85.2,70],[-81.8,69.2],[-81.4,67.7],[-84.5,66.4],[-86.5,66],[-87.2,64.2],[-91,63],[-94.7,60.6],[-94.9,59.2],[-92.7,57.5],[-87.9,56.3],[-82.4,55.2],[-81.7,53],[-79.7,51.2],[-78.7,52.5],[-79.4,54.8],[-76.6,56.4],[-78,59.2],[-77.6,62.4],[-72.8,62.4],[-69.8,60.8],[-69.4,58.8],[-67.4,58.4],[-65,60.6],[-61.9,57],[-55.8,53],[-56.4,51.7],[-60.5,50.3],[-67.4,50.3],[-70.8,47],[-66,49.4],[-64.3,48.1],[-64.5,47],[-61,46],[-60,46.8],[-60,45.8],[-65.7,43.5],[-66,44.5],[-64.8,45.5],[-67,44.8],[-70.5,43.5],[-70,41.7],[-74,40.6],[-75.5,38],[-76,35.2],[-78,33.9],[-81,32],[-81.4,30.5],[-80,26.8],[-80.6,25.1],[-82,26.5],[-83,29.2],[-85,29.6],[-89.3,30.3],[-89.2,29],[-91,29.3],[-94,29.6],[-97.3,27.5],[-97.7,22.3],[-96,19],[-94.5,18.2],[-91.5,18.6],[-90.5,21],[-87,21.5],[-87.5,19],[-88.2,17.5],[-88.5,16],[-86,15.9],[-83.3,15],[-83.7,11],[-82.5,9.3],[-79.8,9.5],[-77.4,8.6],[-78,7.3],[-78.5,8.6],[-80,8.3],[-80.4,7.3],[-83,8.2],[-85.7,10],[-87.5,13],[-91.5,14],[-94.5,16.2],[-97,15.8],[-102,18],[-105.5,20],[-105.5,22.5],[-109.3,26],[-112.8,30],[-114.8,31.7],[-114.7,30.2],[-112,26.5],[-109.5,23],[-110.2,23],[-112.5,26],[-115,28],[-116.5,31.5],[-117.3,32.7],[-120.5,34.5],[-122.5,37.8],[-124.3,40.4],[-124,46.2],[-124.7,48.4],[-122.8,48.9],[-125,50.5],[-128,52],[-130.3,54.5],[-133,57],[-137,58.7],[-140,59.8],[-146,60.7],[-152,59.3],[-150,61],[-155,57.5],[-164.5,54.6],[-158,58.5],[-162,59.8],[-165,60.8],[-165.5,63],[-161,64.5],[-166,64.7]]
const northAmericaRed = [
  [[-130,49],[-95,49.2],[-91.6,48.2],[-88.8,48.2],[-84.4,46.5],[-82.3,45.3],[-82.2,43.2],[-83,42],[-79.3,42.7],[-79,43.7],[-76.9,43.7],[-75.2,45],[-71.5,45],[-70.1,47.2],[-68.1,47.5],[-67.7,45.5],[-66.5,44.7],[-60,40],[-70,24],[-86,22.5],[-86,18.5],[-88.2,18.5],[-89.1,17.9],[-91,17.8],[-91,16],[-92.2,14.5],[-95,10],[-130,15]], // USA and Mexico
  [[-180,72],[-141,72],[-141,60],[-135,59],[-130,55.5],[-130,54],[-135,54],[-180,50]] // Alaska
]
const northAmericaGrey = [
  [[-89.2,15.9],[-89.1,18],[-88,18.5],[-87.5,15.9]], // Belize
  [[-89.3,15],[-88,16.5],[-83,16],[-83,11],[-85.7,11],[-87.7,13],[-87.5,13.3],[-89.3,14.3]], // Honduras, Nicaragua
  [[-83,9.7],[-83,8],[-80,6],[-76,7],[-77,9.5],[-82.8,10]] // Panama
]

const southAmericaCoast = [[-77.4,8.6],[-75.5,10.8],[-72,12.2],[-71.5,11],[-71.8,10.2],[-70,12],[-68,10.6],[-64,10.5],[-61.8,10.7],[-60,8.5],[-57,6],[-52,4.9],[-50,1.5],[-50,0],[-48,-0.7],[-44,-2.6],[-40,-2.9],[-37,-4.8],[-35,-5.5],[-34.8,-7.5],[-37,-11],[-39,-13.5],[-39,-18],[-40.7,-21.5],[-42,-23],[-46.5,-24.2],[-48.7,-26],[-48.8,-28.6],[-52,-32.3],[-53.5,-34],[-55,-34.9],[-57.5,-34.5],[-58.5,-34],[-57,-36.5],[-57.6,-38],[-62,-39],[-62.3,-40.8],[-65,-41],[-63.7,-42.5],[-65.5,-45],[-67.5,-46.2],[-65.8,-47.5],[-69,-50.5],[-68.3,-52.5],[-65.2,-54.8],[-69,-55.3],[-74,-52.8],[-75.5,-48],[-73.5,-42],[-73.5,-37.5],[-71.5,-32],[-70.5,-25],[-70.2,-18.5],[-75,-15.5],[-77.2,-12],[-79.5,-7],[-81.3,-5],[-80,-2.5],[-81,-1],[-80,1],[-78.7,2],[-77.3,4],[-77.4,7],[-77.9,7.3]]
const southAmericaGrey = [
  [[-60.5,9],[-57,8],[-54,6.5],[-54.3,2.5],[-58.8,1.6],[-59.8,2.1],[-59.8,5.3],[-60.9,5.8]], // Guyana, Suriname
  [[-62.6,-22.2],[-60,-19.3],[-58,-19.9],[-58,-22],[-55.7,-22.3],[-54.3,-24.2],[-54.7,-27],[-58.5,-27.2],[-57.8,-25.5],[-60,-24]] // Paraguay
]
const lakeMaracaibo = [[-71.6,10.8],[-71,10],[-72,9.3],[-72,10.5]]

const islandsRed = [
  [[-5.5,50],[-3.5,50.3],[0.5,50.8],[1.5,51.3],[0.5,51.5],[1.7,52.7],[0.3,53],[0,53.7],[-1.5,55],[-2.2,56],[-2,57.6],[-4,57.6],[-3.2,58.6],[-5,58.6],[-6.2,57],[-5,55.5],[-3.3,54.8],[-3,53.6],[-4.5,53.2],[-4.2,52.3],[-5.2,51.8],[-3.2,51.4],[-4.5,51]], // Britain
  [[-10,51.8],[-8,51.7],[-6.2,52.3],[-6,53.5],[-5.5,54.6],[-6.5,55.2],[-8.2,55.2],[-8.5,54.3],[-10,54],[-9.3,53],[-9.8,52.3]], // Ireland
  [[11,55.7],[12.6,56],[12.5,55],[11.2,55.2]], // Zealand
  [[2.4,39.6],[3.4,39.9],[3.2,39.3]], // Mallorca
  [[-156,19],[-155,19.5],[-155.5,20.2],[-156,20]], // Hawaii
  [[172.7,-34.5],[174.5,-36],[176,-37.6],[178.5,-37.7],[177,-39.5],[175.3,-41.6],[174.8,-39.8],[174,-39.3],[174.8,-37.5]], // New Zealand north
  [[172.7,-40.5],[174.3,-41.5],[172.8,-43.7],[170.8,-45.9],[168.5,-46.6],[166.4,-45.9],[168,-44],[171,-42.5]], // New Zealand south
  [[113.5,-22],[114.2,-22],[116.7,-20.6],[121,-19.6],[122.3,-18],[122.3,-17],[124.5,-15.5],[126,-14],[129.5,-14.9],[130.5,-12.5],[132.6,-11.3],[135.5,-12],[136.8,-12.2],[135.5,-14.8],[139.3,-17.5],[141,-16.5],[141.7,-13],[142.5,-10.8],[143.7,-14.3],[145.3,-15],[146.3,-19],[149,-20.5],[150.8,-23],[153.2,-25.5],[153.5,-28.5],[152.5,-32.5],[150.5,-36],[149.9,-37.5],[147,-38.2],[146.3,-39],[143.5,-38.8],[140.5,-38],[138.2,-35.6],[137.8,-33],[136,-34.8],[134,-32.8],[131,-31.5],[126,-32.3],[123.5,-33.9],[119,-34.5],[115,-34.3],[115.7,-31.8],[113.7,-26]], // Australia
  [[144.7,-40.8],[148.3,-40.9],[148,-43],[146.5,-43.6],[145.3,-42.5]], // Tasmania
  [[108.7,19.4],[110.5,20.1],[111,19.6],[109.6,18.2],[108.7,18.6]], // Hainan
  [[142,54.3],[143,53],[143.5,49.5],[142.8,47],[142,46],[142.1,49],[141.7,52]], // Sakhalin
  [[51.5,71.5],[55,70.7],[57.5,70.7],[55,72.7],[60,75],[68.5,76.7],[66,77],[59,75.9],[55,75],[54,73]], // Novaya Zemlya
  [[96,79],[100,79.3],[105,78.5],[100,78],[95,80.5]], // Severnaya Zemlya
  [[137,75.5],[145,75.5],[150,75],[143,73.5],[139,74]], // New Siberian islands
  [[178.5,71.2],[180,71.4],[180,71],[178.5,70.9]], // Wrangel
  [[48,80.5],[60,81],[65,81],[55,80]], // Franz Josef Land
  [[-180,69],[-175,67.5],[-170,66],[-173,64.3],[-180,65]], // Chukotka
  [[-71.7,19.8],[-70,19.8],[-68.4,18.6],[-71.2,17.7],[-72,18.2]] // Dominican Republic
]
const islandsTeal = [
  [[-85,21.9],[-82.5,23.1],[-80,23],[-75.5,20.7],[-74.2,20.2],[-77.7,19.9],[-78,20.8],[-82,22.4],[-84,21.9]], // Cuba
  [[-78.4,18.3],[-76.3,18.2],[-77,17.8],[-78.2,18]], // Jamaica
  [[12.5,38],[15.6,38.2],[15,36.7]], // Sicily
  [[8.2,41],[9.7,41],[9.6,39.2],[8.5,39]], // Sardinia
  [[8.6,42.5],[9.4,43],[9.5,41.5],[9,41.5]], // Corsica
  [[23.6,35.6],[26.3,35.3],[24,35]], // Crete
  [[11,79],[16,80],[24,80.3],[27,80],[20,78.5],[17,76.6],[14,77.7]], // Svalbard
  [[130.9,34.2],[133,35.5],[136,35.7],[137,37.3],[139.5,38.5],[140.3,41],[141.5,41.4],[142,39.5],[141,38],[140.8,35.7],[139.5,35],[136.8,34.4],[135.8,33.5],[135,34.6],[132.5,34.2]], // Honshu
  [[140,41.5],[140.3,43.3],[141.8,45.4],[143,44.4],[145.3,44],[145.5,43.3],[143.2,42],[141,42.5]], // Hokkaido
  [[130,33.4],[131.7,33.7],[131.5,31.5],[130.3,31.2]], // Kyushu
  [[132.3,33.4],[134.2,34.3],[134.5,33.7],[132.8,32.8]], // Shikoku
  [[79.9,9.7],[81.2,8.6],[81.8,7],[80.6,5.95],[80,6.5],[79.8,8]], // Sri Lanka
  [[95.2,5.6],[97.5,5.2],[100.5,2.2],[103.5,0],[104.5,-2],[106,-3],[105.8,-5.8],[104.5,-5.7],[102,-4],[100.3,-1],[98.8,1.7],[96,4]], // Sumatra
  [[105.2,-6.8],[106.7,-6],[108.5,-6.7],[110.8,-6.4],[112.7,-6.9],[114.5,-7.8],[114.5,-8.7],[111,-8.3],[108,-7.8],[106.4,-7.4]], // Java
  [[115,-8.3],[116.7,-8.4],[116.5,-8.9],[115,-8.7]],[[117,-8.3],[119,-8.2],[119,-8.8],[117,-9]],[[120,-8.4],[122.8,-8.2],[122.5,-8.8],[120,-8.9]],[[119.3,-9.4],[120.8,-9.9],[120.2,-10.2]],[[123.5,-10.3],[125,-9.3],[125,-9.9],[124,-10.4]], // Lesser Sunda
  [[109,1.8],[110,1.6],[111.3,2.5],[113,3.2],[114,4.6],[116,7],[117.5,6.5],[119,5],[118,4.2],[117.8,2.2],[119,1],[117.5,0.7],[116.5,-1.5],[116,-4],[114.5,-4],[111.8,-3.5],[110.2,-2.9],[109,0]], // Borneo
  [[119.8,0.8],[120.5,1.2],[125,1.6],[124.5,0.4],[120.8,0.4],[120,-1],[121.5,-1],[123.3,-0.9],[121.8,-1.8],[122.8,-4.2],[122,-4.8],[121.5,-4.2],[120.8,-2.7],[120.4,-5.6],[119.5,-5.5],[119.4,-3.5],[118.9,-2.7]], // Sulawesi
  [[127.5,2.1],[128.5,1.5],[128,0],[127.6,0.8]],[[127.9,-3.1],[130.8,-3.3],[129.5,-3.4],[128,-3.4]], // Moluccas
  [[131,-0.8],[134,-0.8],[135,-3.3],[137.5,-1.6],[141,-2.6],[141,-9.1],[139,-8],[138,-8.3],[138.8,-7],[138,-5.5],[135,-4.4],[133,-4],[132.8,-2.8],[134,-2.4],[132,-2.2]], // West Papua
  [[120.3,16],[120.8,18.5],[122.2,18.5],[122.2,16.2],[124,13],[122.8,13.6],[120.7,14],[120,15]], // Luzon
  [[122,7],[123.5,8.6],[125.5,9.7],[126.5,7.5],[125.5,5.7],[124,6.5],[123,7.6]], // Mindanao
  [[124.3,12.5],[125.7,12],[125.2,10.2],[124.8,11]],[[122,11.8],[123.2,11.5],[122.5,10.5]],[[122.5,10.7],[123.5,10.9],[123,9.1]],[[117.2,8.4],[119.5,11.3],[119.5,10.4],[117.6,8.5]],[[120.4,13.4],[121.5,13],[121.2,12.2]], // Visayas, Palawan
  [[-85.2,73.5],[-81.1,73.8],[-76.3,72.9],[-71.5,71.5],[-67.4,70.2],[-67.4,69.1],[-61.6,66.9],[-63.6,65.1],[-67.7,66.6],[-64.6,63.7],[-65.3,62.6],[-70.8,63.1],[-73.5,64.6],[-74.2,65.1],[-78,64.6],[-77.6,65.4],[-74.2,65.5],[-72.5,67.5],[-76,69.3],[-79,70.4],[-81.4,70.2],[-84.5,70.6],[-87.9,70.4],[-89.6,71.3],[-90,72.6]], // Baffin
  [[-115.3,73.1],[-111.2,72.9],[-107,73.3],[-105,72.7],[-104.3,70.9],[-100.9,70.2],[-103,68.9],[-106.7,69.3],[-111.2,68.9],[-115.3,68.4],[-118,69.5],[-118,71.5]], // Victoria
  [[-125,72],[-120,71.5],[-115.5,73.3],[-120,74.3],[-124,73.5]], // Banks
  [[-91.7,81.8],[-81.1,83],[-67.4,83],[-61.6,82.5],[-67.4,80.9],[-71.5,80.5],[-74.9,79.4],[-75.9,78.2],[-81.7,77.3],[-87.9,77.3],[-91.3,77.6],[-87.9,78.5],[-86.5,79.1],[-94.7,78.5],[-96.4,79.4],[-96.4,80.7],[-91.3,80.7],[-89.3,81.1]], // Ellesmere, Axel Heiberg
  [[-93,76.7],[-88.2,76.7],[-78.3,77.1],[-79.7,76.5],[-83.1,75.8],[-79.7,75.6],[-80,74.9],[-87.9,74.5],[-91.7,74.9],[-93,76]], // Devon
  [[-96.8,77.1],[-93.4,76.9],[-93.7,76.5],[-96.8,76.5]],[[-96.8,75.6],[-93.7,75.6],[-93.7,74.9],[-97,75]], // Grinnell, Cornwallis
  [[-115.3,76.5],[-109,76.9],[-105.7,76],[-106.4,75.3],[-111.2,74.9],[-113.9,74.7],[-115.3,75.3]], // Melville
  [[-104.7,76.7],[-98.2,76.7],[-97.8,75.3],[-100.5,75.1],[-104,76]], // Bathurst
  [[-105.7,79.4],[-101.2,79.1],[-99.2,78],[-103.6,78.2]],[[-98.2,78.9],[-94.7,78],[-97.1,78]],[[-113.2,78.7],[-109.4,78.7],[-110.1,77.6],[-113.2,77.6]], // Queen Elizabeth
  [[-95.4,74],[-90.6,74.1],[-92.3,72.9],[-94.4,72.2],[-95.8,72.7]], // Somerset
  [[-102.6,73.1],[-98.8,74],[-96.8,73.1],[-96.8,71.8],[-99.9,71.5],[-102.6,72.7]], // Prince of Wales
  [[-96.4,71.3],[-93.4,71.8],[-92,69.7],[-95.4,69.7]], // King William
  [[-86.5,65.1],[-85.8,66],[-83.1,65.1],[-80.7,64],[-85.5,63.5],[-86.5,64.2]], // Southampton
  [[-56.8,51.2],[-53.7,49],[-53,47.6],[-57.1,47.8],[-59.2,47.8]], // Newfoundland
  [[-128.3,50.7],[-125,50],[-123.4,48.4],[-125.5,48.9]], // Vancouver
  [[-91.5,-0.2],[-90.5,-0.3],[-91,-1]] // Galapagos
]
const islandsGrey = [
  [[-72.8,78.2],[-66,79.4],[-67.4,80.5],[-60.5,81.8],[-53.7,82.3],[-46.9,83],[-38,83.4],[-31.1,83.7],[-22.2,82.8],[-21.5,81.6],[-12,81.7],[-19.5,80.3],[-21.9,77.1],[-17.4,75.3],[-22.2,74],[-22.2,70.4],[-31.8,68.4],[-33.8,66.9],[-40,65.5],[-42.8,62.4],[-43.4,60.1],[-45.5,60.4],[-49.6,62],[-51.6,65.1],[-53.7,67.3],[-54.7,70.2],[-55.7,72.2],[-56.4,74.4],[-58.5,76],[-67.4,76.3],[-70.8,77.3]], // Greenland
  [[-24.3,65.7],[-22.9,66.4],[-19.5,66],[-14.7,66.6],[-13.7,65.5],[-17.4,63.7],[-20.9,64.2],[-22.9,65.1]], // Iceland
  [[32.4,35],[34.5,35.6],[33.8,34.8],[32.8,34.7]], // Cyprus
  [[49.3,-12],[50.5,-15.5],[49.5,-17],[47,-25],[45,-25.6],[43.5,-23.5],[44.5,-20],[44,-17],[46,-15.8],[48,-14]], // Madagascar
  [[121,25.2],[122,25],[120.9,22],[120.1,23]], // Taiwan
  [[-74.4,18.4],[-72,18.2],[-71.7,19.8],[-73,19.9],[-72.7,18.8]], // Haiti
  [[-67.2,18.5],[-65.6,18.4],[-66,18],[-67.2,18]], // Puerto Rico
  [[125,-9],[127.3,-8.4],[126,-9.2],[125,-9.6]], // Timor Leste
  [[141,-2.6],[144.5,-3.8],[147.8,-6],[146.5,-6.8],[148,-8.2],[150.8,-10.3],[147.5,-10],[144.5,-7.7],[143,-9.2],[141,-9.1]], // Papua New Guinea
  [[148.3,-5.6],[152,-4.2],[152,-5.5],[149.5,-6.3]],[[150.8,-2.6],[153,-4.6],[152.7,-3.8]],[[155,-5.5],[156,-7],[154.8,-6]],[[157,-7.5],[160,-9.6],[158,-8.3]], // Bismarck, Solomons
  [[167,-15],[168,-16.3],[167.2,-16]],[[164,-20.1],[167,-22.3],[166,-22.3]],[[177.3,-18],[178.6,-17.6],[178.4,-18.2],[177.4,-18.3]], // Vanuatu, New Caledonia, Fiji
  [[-61,-52],[-58,-51.3],[-58.5,-52.2]],[[-38,-54],[-36,-54.1],[-36,-54.8]],[[69,-49],[70.5,-49.2],[69.5,-49.8]], // Falklands, South Georgia, Kerguelen
  [[-180,-84.5],[-156,-85.3],[-153,-82.4],[-162.5,-79.6],[-147,-76],[-134,-75],[-111,-74.7],[-98,-73.2],[-83,-73.9],[-72.5,-72.5],[-66,-68],[-55.4,-62.8],[-60.6,-69.7],[-61,-76],[-83.4,-78.2],[-72.5,-79.7],[-59.5,-83.6],[-53,-81],[-43,-79],[-34.8,-78],[-20.6,-74.7],[-8,-71.4],[0,-71],[31,-70.2],[51.3,-66.2],[69.3,-68.1],[67.4,-73.4],[73,-69.6],[83.4,-67.2],[102.7,-66],[128,-66.7],[145,-67.4],[160,-71],[170.7,-71.6],[162.4,-75.9],[159,-80],[167,-83],[180,-84.3],[180,-90],[-180,-90]] // Antarctica
]

const legendKeys = ["1", "2", "NA"]
const RED = "#F8766D", TEAL = "#00BFC4", GREY = "#7F7F7F"

let svg = d3.select("#chart")
let parseDay = d => new Date(Date.UTC(2021, 1, 1) + d * 864e5)
let monthTicks = [0, 28, 59, 89, 120].map(parseDay)
const TICK = "#333333", LABEL = "#4D4D4D"

function letter(t, x, y) {
  svg.append("text").attr("x", x).attr("y", y).attr("font-size", 58).attr("font-weight", "bold").text(t)
}
// keep the plain hyphen R prints on negative ticks
let plainMinus = f => v => f(v).replace("\u2212", "-")

// ---- panels A, B, C
function timePanel(o) {
  let g = svg.append("g")
  let x = d3.scaleUtc().domain([monthTicks[0], monthTicks[4]]).range(o.xr)
  let y = d3.scaleLinear().domain(o.yd).range([874, 22])
  let line = d3.line().x(d => x(parseDay(d[0]))).y(d => y(d[1])).curve(d3.curveLinear)
  let ribbon = (hi, lo) => line(hi.concat(lo.slice().reverse())) + "Z"

  let lines = [[o.s1[0], RED, 4], [o.s1[1], RED, 4], [o.s1[2], RED, 15],
               [o.s2[0], TEAL, 4], [o.s2[1], TEAL, 4], [o.s2[2], TEAL, 15]]
  g.selectAll(".series").data(lines).join("path").attr("class", "series")
    .attr("d", d => line(d[0])).attr("fill", "none")
    .attr("stroke", d => d[1]).attr("stroke-width", d => d[2]).attr("stroke-linejoin", "round")
  g.append("path").attr("d", ribbon(o.s1[0], o.s1[1])).attr("fill", RED).attr("fill-opacity", 0.1)
  g.append("path").attr("d", ribbon(o.s2[0], o.s2[1])).attr("fill", TEAL).attr("fill-opacity", 0.1)

  let xAxis = g.append("g").attr("transform", "translate(0,874)")
    .call(d3.axisBottom(x).tickValues(monthTicks).tickFormat(d3.utcFormat("%b %d %Y")).tickSize(8).tickSizeOuter(0))
  let yAxis = g.append("g").attr("transform", "translate(" + o.left + ",0)")
    .call(d3.axisLeft(y).tickValues(o.yt).tickFormat(plainMinus(o.yf)).tickSize(8).tickSizeOuter(0))
  for (let a of [xAxis, yAxis]) {
    a.select(".domain").remove()
    a.selectAll("line").attr("stroke", TICK).attr("stroke-width", 3)
    a.selectAll("text").attr("font-size", 36).attr("font-family", "Liberation Sans").attr("fill", LABEL)
  }
  xAxis.selectAll("text").attr("x", 0).attr("y", 0).attr("dy", 0).attr("text-anchor", "end")
    .attr("transform", "translate(18,48) rotate(-45)")
  yAxis.selectAll("text").attr("x", -22).attr("dy", 13).attr("y", 0)
  g.append("line").attr("x1", o.left).attr("x2", o.left).attr("y1", 22).attr("y2", 876).attr("stroke", "black").attr("stroke-width", 4)
  g.append("line").attr("x1", o.left - 2).attr("x2", o.right).attr("y1", 874).attr("y2", 874).attr("stroke", "black").attr("stroke-width", 4)
  g.append("text").attr("transform", "translate(" + o.titleX + "," + o.titleY + ") rotate(-90)")
    .attr("text-anchor", "middle").attr("font-size", 46.5).text(o.title)
}

timePanel({ xr: [135, 960], left: 131, right: 975, yd: [-1.956, 1.84], yt: [-1, 0, 1], yf: d3.format("d"),
  s1: [csiHi1, csiLo1, csiMed1], s2: [csiHi2, csiLo2, csiMed2], title: "CSI*", titleX: 57, titleY: 454 })
timePanel({ xr: [1166, 1960], left: 1163, right: 1975, yd: [-3.064, 4.68], yt: [-2.5, 0, 2.5], yf: d3.format(".1f"),
  s1: [casesHi1, casesLo1, casesMed1], s2: [casesHi2, casesLo2, casesMed2], title: "New cases (pmp)*", titleX: 1055, titleY: 460 })
timePanel({ xr: [2166, 2960], left: 2163, right: 2975, yd: [-3.0, 4.79], yt: [-2.5, 0, 2.5], yf: d3.format(".1f"),
  s1: [deathsHi1, deathsLo1, deathsMed1], s2: [deathsHi2, deathsLo2, deathsMed2], title: "New deaths (pmp)*", titleX: 2055, titleY: 460 })

letter("A", 21, 65); letter("B", 1022, 65); letter("C", 2022, 65)
svg.append("text").attr("x", 1568).attr("y", 1115).attr("text-anchor", "middle").attr("font-size", 46).text("Date")

// ---- panel D and E share a frame style
function framedAxes(x, y, xTicks, yTicks, minorX, minorY, left, right, top, bottom) {
  let g = svg.append("g")
  g.selectAll(".minorx").data(minorX).join("line").attr("x1", x).attr("x2", x).attr("y1", top).attr("y2", bottom)
    .attr("stroke", "#EBEBEB").attr("stroke-width", 1.6)
  g.selectAll(".minory").data(minorY).join("line").attr("y1", y).attr("y2", y).attr("x1", left).attr("x2", right)
    .attr("stroke", "#EBEBEB").attr("stroke-width", 1.6)
  g.selectAll(".majorx").data(xTicks).join("line").attr("x1", x).attr("x2", x).attr("y1", top).attr("y2", bottom)
    .attr("stroke", "#EBEBEB").attr("stroke-width", 3.2)
  g.selectAll(".majory").data(yTicks).join("line").attr("y1", y).attr("y2", y).attr("x1", left).attr("x2", right)
    .attr("stroke", "#EBEBEB").attr("stroke-width", 3.2)
  return g
}
function frameAndAxes(x, y, xTicks, yTicks, left, right, top, bottom) {
  svg.append("rect").attr("x", left).attr("y", top).attr("width", right - left).attr("height", bottom - top)
    .attr("fill", "none").attr("stroke", TICK).attr("stroke-width", 3)
  let xa = svg.append("g").attr("transform", "translate(0," + bottom + ")")
    .call(d3.axisBottom(x).tickValues(xTicks).tickFormat(d3.format(".1f")).tickSize(8).tickSizeOuter(0))
  let axes = [xa]
  if (yTicks.length) {
    axes.push(svg.append("g").attr("transform", "translate(" + left + ",0)")
      .call(d3.axisLeft(y).tickValues(yTicks).tickFormat(d3.format(".1f")).tickSize(8).tickSizeOuter(0)))
  }
  for (let a of axes) {
    a.select(".domain").remove()
    a.selectAll("line").attr("stroke", TICK).attr("stroke-width", 3)
    a.selectAll("text").attr("font-size", 36).attr("font-family", "Liberation Sans").attr("fill", LABEL)
  }
  xa.selectAll("text").attr("y", 0).attr("dy", 50)
  if (axes[1]) axes[1].selectAll("text").attr("x", -21).attr("dy", 13).attr("y", 0)
}
function axisTitles(xText, xCenter, yText, yBase) {
  svg.append("text").attr("x", xCenter).attr("y", 2265).attr("text-anchor", "middle").attr("font-size", 46).text(xText)
  svg.append("text").attr("transform", "translate(" + yBase + ",1668) rotate(-90)").attr("text-anchor", "middle").attr("font-size", 46).text(yText)
}

// panel D
let dLeft = 90, dRight = 1475, dTop = 1173, dBottom = 2162
let xD = d3.scaleLinear().domain([5.771, 7.773]).range([dLeft, dRight])
let yD = d3.scaleLinear().domain([0, 100]).range([dBottom, dTop])
framedAxes(xD, yD, [6, 6.5, 7, 7.5], [], [6.25, 6.75, 7.25, 7.75], [], dLeft, dRight, dTop, dBottom)
let colourOf = c => manifoldOne.includes(c) ? RED : TEAL
svg.append("g").selectAll("line").data(labelLinks).join("line")
  .attr("x1", d => xD(d[1])).attr("y1", d => yD(d[2])).attr("x2", d => xD(d[3])).attr("y2", d => yD(d[4]))
  .attr("stroke", d => colourOf(d[0])).attr("stroke-width", 3)
let labels = svg.append("g").selectAll("g").data(countryCodes).join("g")
  .attr("transform", (d, i) => "translate(" + xD(labelEstimate[i]) + "," + yD(labelRank[i]) + ")")
let boxes = labels.append("rect").attr("y", -25).attr("height", 50).attr("rx", 7).attr("fill", "white")
  .attr("stroke", colourOf).attr("stroke-width", 2.5)
let labelText = labels.append("text").attr("y", 17).attr("text-anchor", "middle").attr("font-size", 47)
  .attr("fill", colourOf).text(d => d)
labelText.each(function(d, i) {
  let w = this.getComputedTextLength() + 17
  d3.select(boxes.nodes()[i]).attr("x", -w / 2).attr("width", w)
})
frameAndAxes(xD, yD, [6, 6.5, 7, 7.5], [], dLeft, dRight, dTop, dBottom)
axisTitles("Median posterior ID estimate", 782, "Country Code", 57)
letter("D", 21, 1215)

// panel E
let eLeft = 1650, eRight = 2974
let xE = d3.scaleLinear().domain([5.821, 7.85]).range([eLeft, eRight])
let yE = d3.scaleLinear().domain([-0.47, 9.92]).range([dBottom, dTop])
framedAxes(xE, yE, [6, 6.5, 7, 7.5], [0, 2.5, 5, 7.5], [6.25, 6.75, 7.25, 7.75], [1.25, 3.75, 6.25, 8.75], eLeft, eRight, dTop, dBottom)
let area = d3.area().x(d => xE(d[0])).y0(yE(0)).y1(d => yE(d[1])).curve(d3.curveMonotoneX)
let upper = d3.line().x(d => xE(d[0])).y(d => yE(d[1])).curve(d3.curveMonotoneX)
for (let [data, col] of [[density1, RED], [density2, TEAL]]) {
  svg.append("path").attr("d", area(data)).attr("fill", col).attr("fill-opacity", 0.7)
  svg.append("path").attr("d", upper(data)).attr("fill", "none").attr("stroke", "black").attr("stroke-width", 4)
}
svg.append("line").attr("x1", xE(5.914)).attr("x2", xE(7.757)).attr("y1", yE(0)).attr("y2", yE(0)).attr("stroke", "black").attr("stroke-width", 4)
frameAndAxes(xE, yE, [6, 6.5, 7, 7.5], [0, 2.5, 5, 7.5], eLeft, eRight, dTop, dBottom)
axisTitles("ID posterior estimate", 2310, "Kernel density", 1555)
letter("E", 1519, 1215)

// ---- panel F: world map
let lon = d3.scaleLinear().domain([-180, 180]).range([157, 2842])
let lat = d3.scaleLinear().domain([-90, 83.6]).range([3713.4, 2417.5])
let ring = d3.line().x(d => lon(d[0])).y(d => lat(d[1]))
let closed = r => ring(r) + "Z"
svg.append("rect").attr("x", 23).attr("y", 2351).attr("width", 2951).attr("height", 1425)
  .attr("fill", "none").attr("stroke", TICK).attr("stroke-width", 3)

function fillRings(parent, rings, col) {
  parent.selectAll(null).data(rings).join("path").attr("d", closed).attr("fill", col).attr("stroke", col).attr("stroke-width", 0.8)
}
function landmass(id, coast, base, overlays) {
  svg.append("clipPath").attr("id", id).append("path").attr("d", closed(coast))
  let g = svg.append("g").attr("clip-path", "url(#" + id + ")")
  g.append("path").attr("d", closed(coast)).attr("fill", base)
  for (let [rings, col] of overlays) fillRings(g, rings, col)
  return g
}
landmass("eurasia", eurasiaCoast, TEAL, [[eurasiaRed, RED], [eurasiaGrey, GREY], [[caspianSea], "white"]])
landmass("africa", africaCoast, GREY, [[africaRed, RED], [africaTeal, TEAL], [africaGrey, GREY]])
landmass("northam", northAmericaCoast, TEAL, [[northAmericaRed, RED], [northAmericaGrey, GREY]])
landmass("southam", southAmericaCoast, TEAL, [[southAmericaGrey, GREY], [[lakeMaracaibo], "white"]])
let islands = svg.append("g")
fillRings(islands, islandsRed, RED)
fillRings(islands, islandsTeal, TEAL)
fillRings(islands, islandsGrey, GREY)
letter("F", 19, 2357)

// legend
svg.append("text").attr("x", 1160).attr("y", 3897).attr("font-size", 46).text("ID manifold")
let legendX = d3.scalePoint().domain(legendKeys).range([1414, 1692])
let legendColour = d3.scaleOrdinal().domain(legendKeys).range([RED, TEAL, GREY])
let legendText = { "1": 1516, "2": 1655, "NA": 1810 }
svg.selectAll(".swatch").data(legendKeys).join("rect").attr("class", "swatch")
  .attr("x", d => legendX(d)).attr("y", 3858).attr("width", 66).attr("height", 65).attr("fill", d => legendColour(d))
svg.selectAll(".swatchLabel").data(legendKeys).join("text").attr("class", "swatchLabel")
  .attr("x", d => legendText[d]).attr("y", 3907).attr("text-anchor", "middle").attr("font-size", 36).text(d => d)
</script>
</body>
</html>
